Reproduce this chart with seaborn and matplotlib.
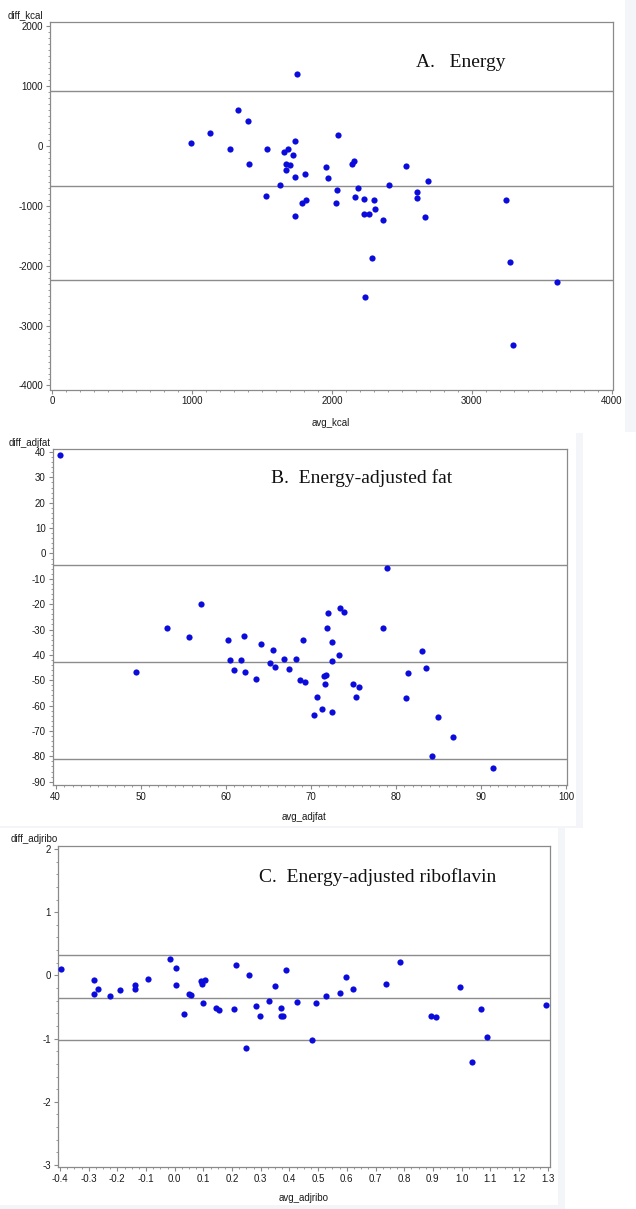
import matplotlib
matplotlib.use("Agg")
import matplotlib.pyplot as plt
import numpy as np
import pandas as pd
import seaborn as sns
from matplotlib.ticker import MultipleLocator, FormatStrFormatter
from matplotlib.patches import Rectangle

# Panel A: energy
avg_kcal = [990, 1130, 1330, 1400, 1275, 1410, 1533, 1528, 1632, 1655,
            1684, 1672, 1704, 1672, 1722, 1739, 1750, 1733, 1806, 1790,
            1817, 1739, 1957, 1974, 2046, 2038, 2029, 2142, 2160, 2186,
            2162, 2226, 2304, 2310, 2229, 2264, 2362, 2287, 2235, 2409,
            2533, 2609, 2609, 2687, 2664, 3241, 3275, 3606, 3296]
diff_kcal = [55, 210, 605, 420, -60, -295, -60, -830, -660, -100,
             -45, -295, -320, -400, -150, 85, 1205, -515, -465, -960,
             -910, -1165, -360, -535, 175, -740, -960, -295, -255, -700,
             -855, -895, -905, -1050, -1140, -1140, -1230, -1880, -2530, -650,
             -335, -765, -870, -595, -1195, -905, -1940, -2265, -3320]
lines_kcal = [912, -670, -2240]

# Panel B: energy-adjusted fat
avg_adjfat = [40.5, 78.9, 57.1, 72.0, 73.4, 73.9, 53.1, 71.9, 78.5, 55.7,
              60.3, 62.2, 64.1, 65.6, 69.1, 72.5, 73.3, 72.5, 60.5, 61.8,
              61.0, 62.3, 63.6, 65.2, 65.8, 66.9, 67.4, 68.2, 68.7, 69.3,
              71.5, 71.8, 71.7, 70.7, 70.4, 71.3, 72.5, 74.9, 75.7, 75.3,
              83.1, 83.5, 81.4, 81.2, 84.9, 86.7, 84.2, 91.4, 49.5]
diff_adjfat = [38.9, -5.7, -19.8, -23.5, -21.5, -23.2, -29.4, -29.4, -29.4, -33.1,
               -34.0, -32.6, -35.8, -38.0, -34.3, -34.8, -39.9, -42.4, -41.9, -41.9,
               -46.0, -46.9, -49.5, -43.1, -44.7, -41.6, -45.6, -41.6, -50.0, -50.8,
               -48.3, -47.8, -51.5, -56.5, -63.8, -61.3, -62.5, -51.5, -52.8, -56.5,
               -38.5, -45.3, -47.0, -56.9, -64.5, -72.4, -79.8, -84.7, -46.6]
lines_adjfat = [-4.6, -42.8, -81.1]

# Panel C: energy-adjusted riboflavin
avg_adjribo = [-0.395, -0.282, -0.280, -0.266, -0.227, -0.192, -0.137, -0.138, -0.093, -0.015,
               0.003, 0.003, 0.034, 0.050, 0.057, 0.090, 0.094, 0.107, 0.100, 0.145,
               0.156, 0.208, 0.214, 0.250, 0.260, 0.285, 0.296, 0.327, 0.351, 0.372,
               0.370, 0.376, 0.389, 0.425, 0.478, 0.494, 0.527, 0.575, 0.596, 0.622,
               0.736, 0.785, 0.893, 0.911, 0.993, 1.038, 1.068, 1.087, 1.293]
diff_adjribo = [0.10, -0.08, -0.29, -0.215, -0.32, -0.235, -0.15, -0.215, -0.06, 0.255,
                0.11, -0.147, -0.61, -0.295, -0.315, -0.09, -0.14, -0.08, -0.43, -0.52,
                -0.555, -0.53, 0.165, -1.145, 0.0, -0.485, -0.635, -0.41, -0.17, -0.515,
                -0.647, -0.647, 0.09, -0.415, -1.027, -0.44, -0.32, -0.28, -0.025, -0.21,
                -0.135, 0.21, -0.64, -0.66, -0.19, -1.365, -0.535, -0.975, -0.47]
lines_adjribo = [0.33, -0.355, -1.03]

sns.set_theme(style="white")
plt.rcParams["font.family"] = ["Liberation Sans", "DejaVu Sans"]

W, H = 636, 1209
fig = plt.figure(figsize=(W / 100, H / 100), dpi=100)
fig.patch.set_facecolor("white")


def px_axes(left, right, top, bottom):
    return fig.add_axes([left / W, 1 - bottom / H, (right - left) / W, (bottom - top) / H])


# faint screenshot borders
strip = "#f3f5f9"
for (x0, y0, w, h) in [(625, 0, 11, 432), (576, 433, 7, 394), (0, 826, 583, 2),
                       (558, 828, 7, 381), (0, 1205, 565, 4)]:
    fig.patches.append(Rectangle((x0 / W, 1 - (y0 + h) / H), w / W, h / H,
                                 transform=fig.transFigure, color=strip, lw=0, zorder=0))

panels = [
    dict(rect=(49.9, 613.3, 22, 389.5), x=avg_kcal, y=diff_kcal, lines=lines_kcal,
         xlim=(-15, 4011), ylim=(-4067, 2067), xmaj=1000, xmin=100, ymaj=1000, ymin=100,
         xfmt="%d", yfmt="%d", title="A.   Energy", tpos=(415.8, 66.7),
         ylab="diff_kcal", ylpos=(7.3, 15), xlab="avg_kcal", xlpos=(330.6, 423.3)),
    dict(rect=(52.7, 567, 449, 785), x=avg_adjfat, y=diff_adjfat, lines=lines_adjfat,
         xlim=(39.66, 100.1), ylim=(-91.3, 41.2), xmaj=10, xmin=1, ymaj=10, ymin=2,
         xfmt="%d", yfmt="%d", title="B.  Energy-adjusted fat", tpos=(271, 482.7),
         ylab="diff_adjfat", ylpos=(8.9, 443.3), xlab="avg_adjfat", xlpos=(304, 816.7)),
    dict(rect=(58, 549.6, 845.7, 1166.7), x=avg_adjribo, y=diff_adjribo, lines=lines_adjribo,
         xlim=(-0.407, 1.307), ylim=(-3.027, 2.052), xmaj=0.1, xmin=0.025, ymaj=1, ymin=0.2,
         xfmt="%.1f", yfmt="%d", title="C.  Energy-adjusted riboflavin", tpos=(258.8, 882.3),
         ylab="diff_adjribo", ylpos=(11, 839.3), xlab="avg_adjribo", xlpos=(303.4, 1197.7)),
]

for p in panels:
    ax = px_axes(*p["rect"])
    df = pd.DataFrame({"avg": p["x"], "diff": p["y"]})
    for v in p["lines"]:
        ax.axhline(v, color="#8c8c8c", lw=1.0, zorder=1)
    sns.scatterplot(data=df, x="avg", y="diff", ax=ax, color="#0b0bdc",
                    s=20, linewidth=0, zorder=3)
    ax.set_xlim(*p["xlim"])
    ax.set_ylim(*p["ylim"])
    ax.set_xlabel("")
    ax.set_ylabel("")
    ax.xaxis.set_major_locator(MultipleLocator(p["xmaj"]))
    ax.xaxis.set_minor_locator(MultipleLocator(p["xmin"]))
    ax.yaxis.set_major_locator(MultipleLocator(p["ymaj"]))
    ax.yaxis.set_minor_locator(MultipleLocator(p["ymin"]))
    ax.xaxis.set_major_formatter(FormatStrFormatter(p["xfmt"]))
    ax.yaxis.set_major_formatter(FormatStrFormatter(p["yfmt"]))
    ax.tick_params(which="major", direction="out", length=3, width=0.8,
                   color="#8a8a8a", labelsize=7, labelcolor="#1a1a1a", pad=2,
                   bottom=True, left=True)
    ax.tick_params(which="minor", direction="out", length=1.6, width=0.6,
                   color="#8a8a8a", bottom=True, left=True)
    for s in ax.spines.values():
        s.set_color("#8a8a8a")
        s.set_linewidth(0.9)
    fig.text(p["tpos"][0] / W, 1 - p["tpos"][1] / H, p["title"],
             family=["Liberation Serif", "DejaVu Serif"], fontsize=14,
             ha="left", va="baseline", color="#111111")
    fig.text(p["ylpos"][0] / W, 1 - p["ylpos"][1] / H, p["ylab"],
             fontsize=7, ha="left", va="center", color="#1a1a1a")
    fig.text(p["xlpos"][0] / W, 1 - p["xlpos"][1] / H, p["xlab"],
             fontsize=7, ha="center", va="center", color="#1a1a1a")

fig.savefig("out.png", dpi=100, facecolor="white")
